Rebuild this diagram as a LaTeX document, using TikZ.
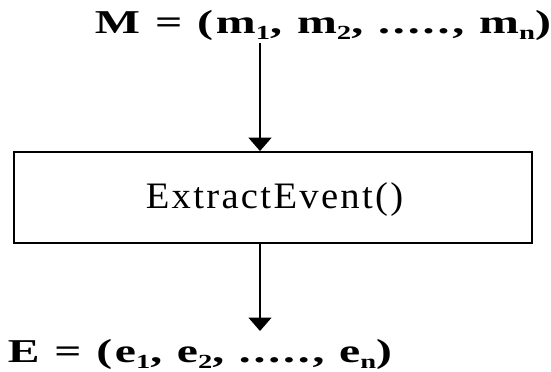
\documentclass[tikz,border=0pt]{standalone}
\usepackage{fontspec}
\setmainfont{Liberation Serif}
\newfontfamily\spaced[LetterSpace=6]{Liberation Serif}
\usetikzlibrary{arrows.meta,positioning}
\tikzset{
  proc/.style={draw,line width=1.4pt,minimum width=388.5pt,minimum height=68.25pt,inner sep=0pt},
  vec/.style={inner sep=0pt,anchor=base,font=\spaced\fontsize{25}{30}\selectfont\bfseries},
  flow/.style={-{Triangle[length=10pt,width=17pt]},line width=1.5pt},
}
\newcommand{\fitwide}[2]{\resizebox{#1}{\height}{#2}}
\newcommand{\idx}[1]{\raisebox{-5pt}{\fontsize{15}{15}\selectfont #1}}

\begin{document}
\begin{tikzpicture}[x=0.75pt,y=-0.75pt]
  \useasboundingbox (0,0) rectangle (551,372);
  % process box
  \node[proc] (extract) at (273,197.5) {};
  \node[anchor=base,inner sep=0pt,font=\spaced\fontsize{28}{32}\selectfont] (name) at (274.5,208)
     {\fitwide{193pt}{ExtractEvent()}};
  % input and output sequences
  \node[vec] (mseq) at (323,33)
     {\fitwide{342pt}{M = (m\idx{1}, m\idx{2}, ....., m\idx{n})}};
  \node[vec] (eseq) at (200,362)
     {\fitwide{288pt}{E = (e\idx{1}, e\idx{2}, ....., e\idx{n})}};
  \coordinate (in) at (260,43);
  \coordinate (out) at (260,331);
  \draw[flow] (in) -- (in |- extract.north);
  \draw[flow] (out |- extract.south) -- (out);
\end{tikzpicture}
\end{document}
